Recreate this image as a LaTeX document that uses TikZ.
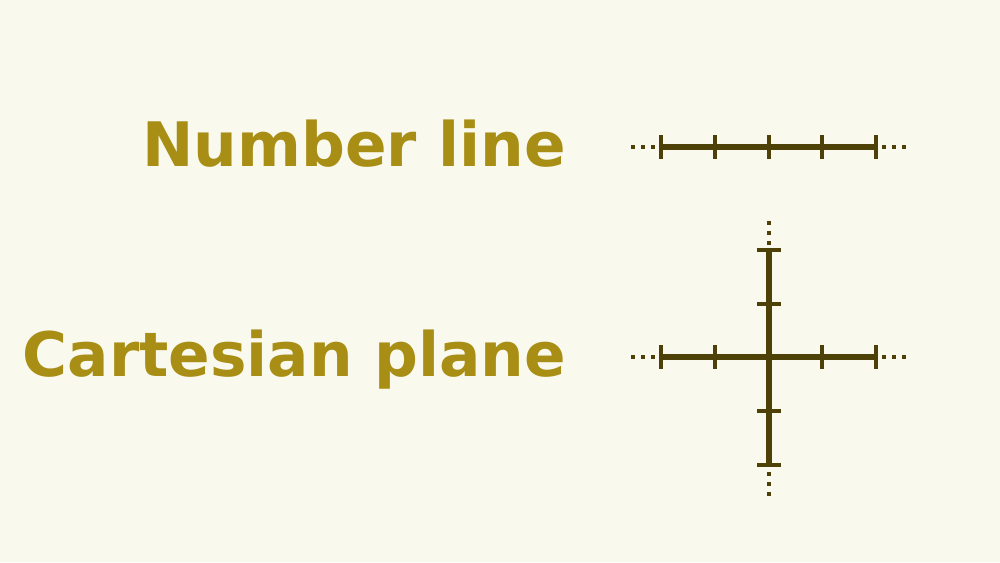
\documentclass[tikz,border=0pt]{standalone}
\usepackage{fontspec}
\setmainfont{DejaVu Sans}
\definecolor{bgc}{HTML}{F9F9EE}
\definecolor{txtc}{HTML}{A88E14}
\definecolor{axc}{HTML}{4D4108}
\begin{document}
\begin{tikzpicture}[x=0.75pt,y=-0.75pt,
  lbl/.style={font=\fontsize{46}{55}\selectfont\bfseries, text=txtc, inner sep=0pt, anchor=base east},
  axis/.style={draw=axc, line width=4.4pt},
  tickmark/.style={draw=axc, line width=2.6pt},
  dotsq/.style={fill=axc}]
\fill[bgc] (0,0) rectangle (1000,562);
\useasboundingbox (0,0) rectangle (1000,562);
\node[lbl] (nl) at (566,166) {Number line};
\node[lbl] (cp) at (566,376) {Cartesian plane};
% number line
\draw[axis] (661,147) -- (876,147);
\foreach \x in {661,715,769,822,876} \draw[tickmark] (\x,135) -- (\x,159);
\foreach \x in {633,643,653,884,894,904} \fill[dotsq] (\x-1.7,145.3) rectangle (\x+1.7,148.7);
% cartesian plane
\draw[axis] (661,357) -- (876,357);
\draw[axis] (769,250) -- (769,465);
\foreach \x in {661,715,822,876} \draw[tickmark] (\x,345) -- (\x,369);
\foreach \y in {250,304,411,465} \draw[tickmark] (757,\y) -- (781,\y);
\foreach \x in {633,643,653,884,894,904} \fill[dotsq] (\x-1.7,355.3) rectangle (\x+1.7,358.7);
\foreach \y in {223,233,243,474,484,494} \fill[dotsq] (767.3,\y-1.7) rectangle (770.7,\y+1.7);
\end{tikzpicture}
\end{document}
